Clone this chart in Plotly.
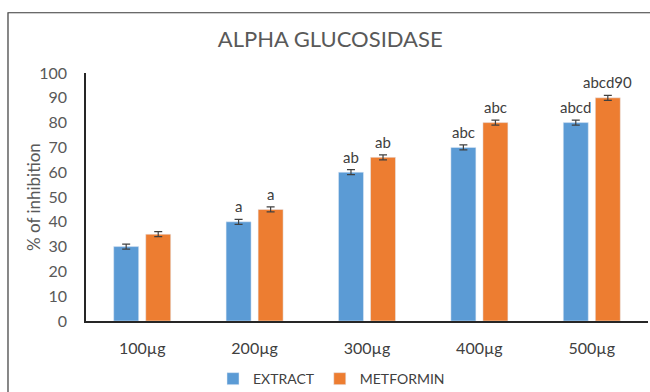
import plotly.graph_objects as go

categories = ["100µg", "200µg", "300µg", "400µg", "500µg"]
extract = [30, 40, 60, 70, 80]
metformin = [35, 45, 66, 80, 90]
extract_err = [1, 1, 1, 1, 1]
metformin_err = [1, 1, 1, 1, 1]
extract_labels = ["", "a", "ab", "abc", "abcd"]
metformin_labels = ["", "a", "ab", "abc", "abcd90"]
yticks = [0, 10, 20, 30, 40, 50, 60, 70, 80, 90, 100]

BLUE = "#5B9BD5"
ORANGE = "#ED7D31"
FONT = "Lato, Open Sans, sans-serif"

fig = go.Figure()
fig.add_trace(go.Bar(
    name="EXTRACT", x=categories, y=extract, marker_color=BLUE,
    error_y=dict(type="data", array=extract_err, color="#404040", thickness=1.2, width=4),
))
fig.add_trace(go.Bar(
    name="METFORMIN", x=categories, y=metformin, marker_color=ORANGE,
    error_y=dict(type="data", array=metformin_err, color="#404040", thickness=1.2, width=4),
))

for c, v, e, t in zip(categories, extract, extract_err, extract_labels):
    if t:
        fig.add_annotation(x=c, y=v + e, text=t, showarrow=False, xshift=-16, yshift=13,
                           font=dict(family=FONT, size=15, color="#404040"))
for c, v, e, t in zip(categories, metformin, metformin_err, metformin_labels):
    if t:
        fig.add_annotation(x=c, y=v + e, text=t, showarrow=False, xshift=16, yshift=13,
                           font=dict(family=FONT, size=15, color="#404040"))

# y-axis title
fig.add_annotation(xref="paper", yref="paper", x=(33 - 86) / 562, y=0.5, text="% of inhibition",
                   textangle=-90, showarrow=False, xanchor="center", yanchor="middle",
                   font=dict(family=FONT, size=17, color="#595959"))

# outer frame
fig.add_shape(type="rect", xref="paper", yref="paper", x0=-0.1388, x1=1.2, y0=-0.6, y1=1.243,
              line=dict(color="#3a3a3a", width=1.2), layer="below")

fig.update_layout(
    width=650, height=392,
    margin=dict(l=86, r=2, t=73, b=71, autoexpand=False),
    paper_bgcolor="white", plot_bgcolor="white",
    font=dict(family=FONT, color="#595959"),
    title=dict(text="ALPHA GLUCOSIDASE", x=0.508, xref="container", xanchor="center",
               y=0.9, yanchor="middle", font=dict(family=FONT, size=22, color="#595959")),
    barmode="group", bargap=0.43, bargroupgap=0.22,
    showlegend=True,
    legend=dict(orientation="h", x=0.51, xref="container", xanchor="center", y=0.033, yref="container",
                yanchor="middle", font=dict(family=FONT, size=14, color="#404040"), traceorder="normal",
                itemwidth=30, tracegroupgap=0),
    xaxis=dict(showline=True, linecolor="#262626", linewidth=2, ticks="", automargin=False,
               tickfont=dict(size=16, color="#404040"), showgrid=False, ticklabelstandoff=12),
    yaxis=dict(range=[0, 100], tickvals=yticks, showline=True, linecolor="#262626", linewidth=1.5,
               ticks="", showgrid=False, zeroline=False, automargin=False,
               tickfont=dict(size=16, color="#595959"), ticklabelstandoff=14),
)

fig.write_html("out.html", config={"displayModeBar": False},
               post_script="document.body.style.margin='0';document.body.style.overflow='hidden';")
